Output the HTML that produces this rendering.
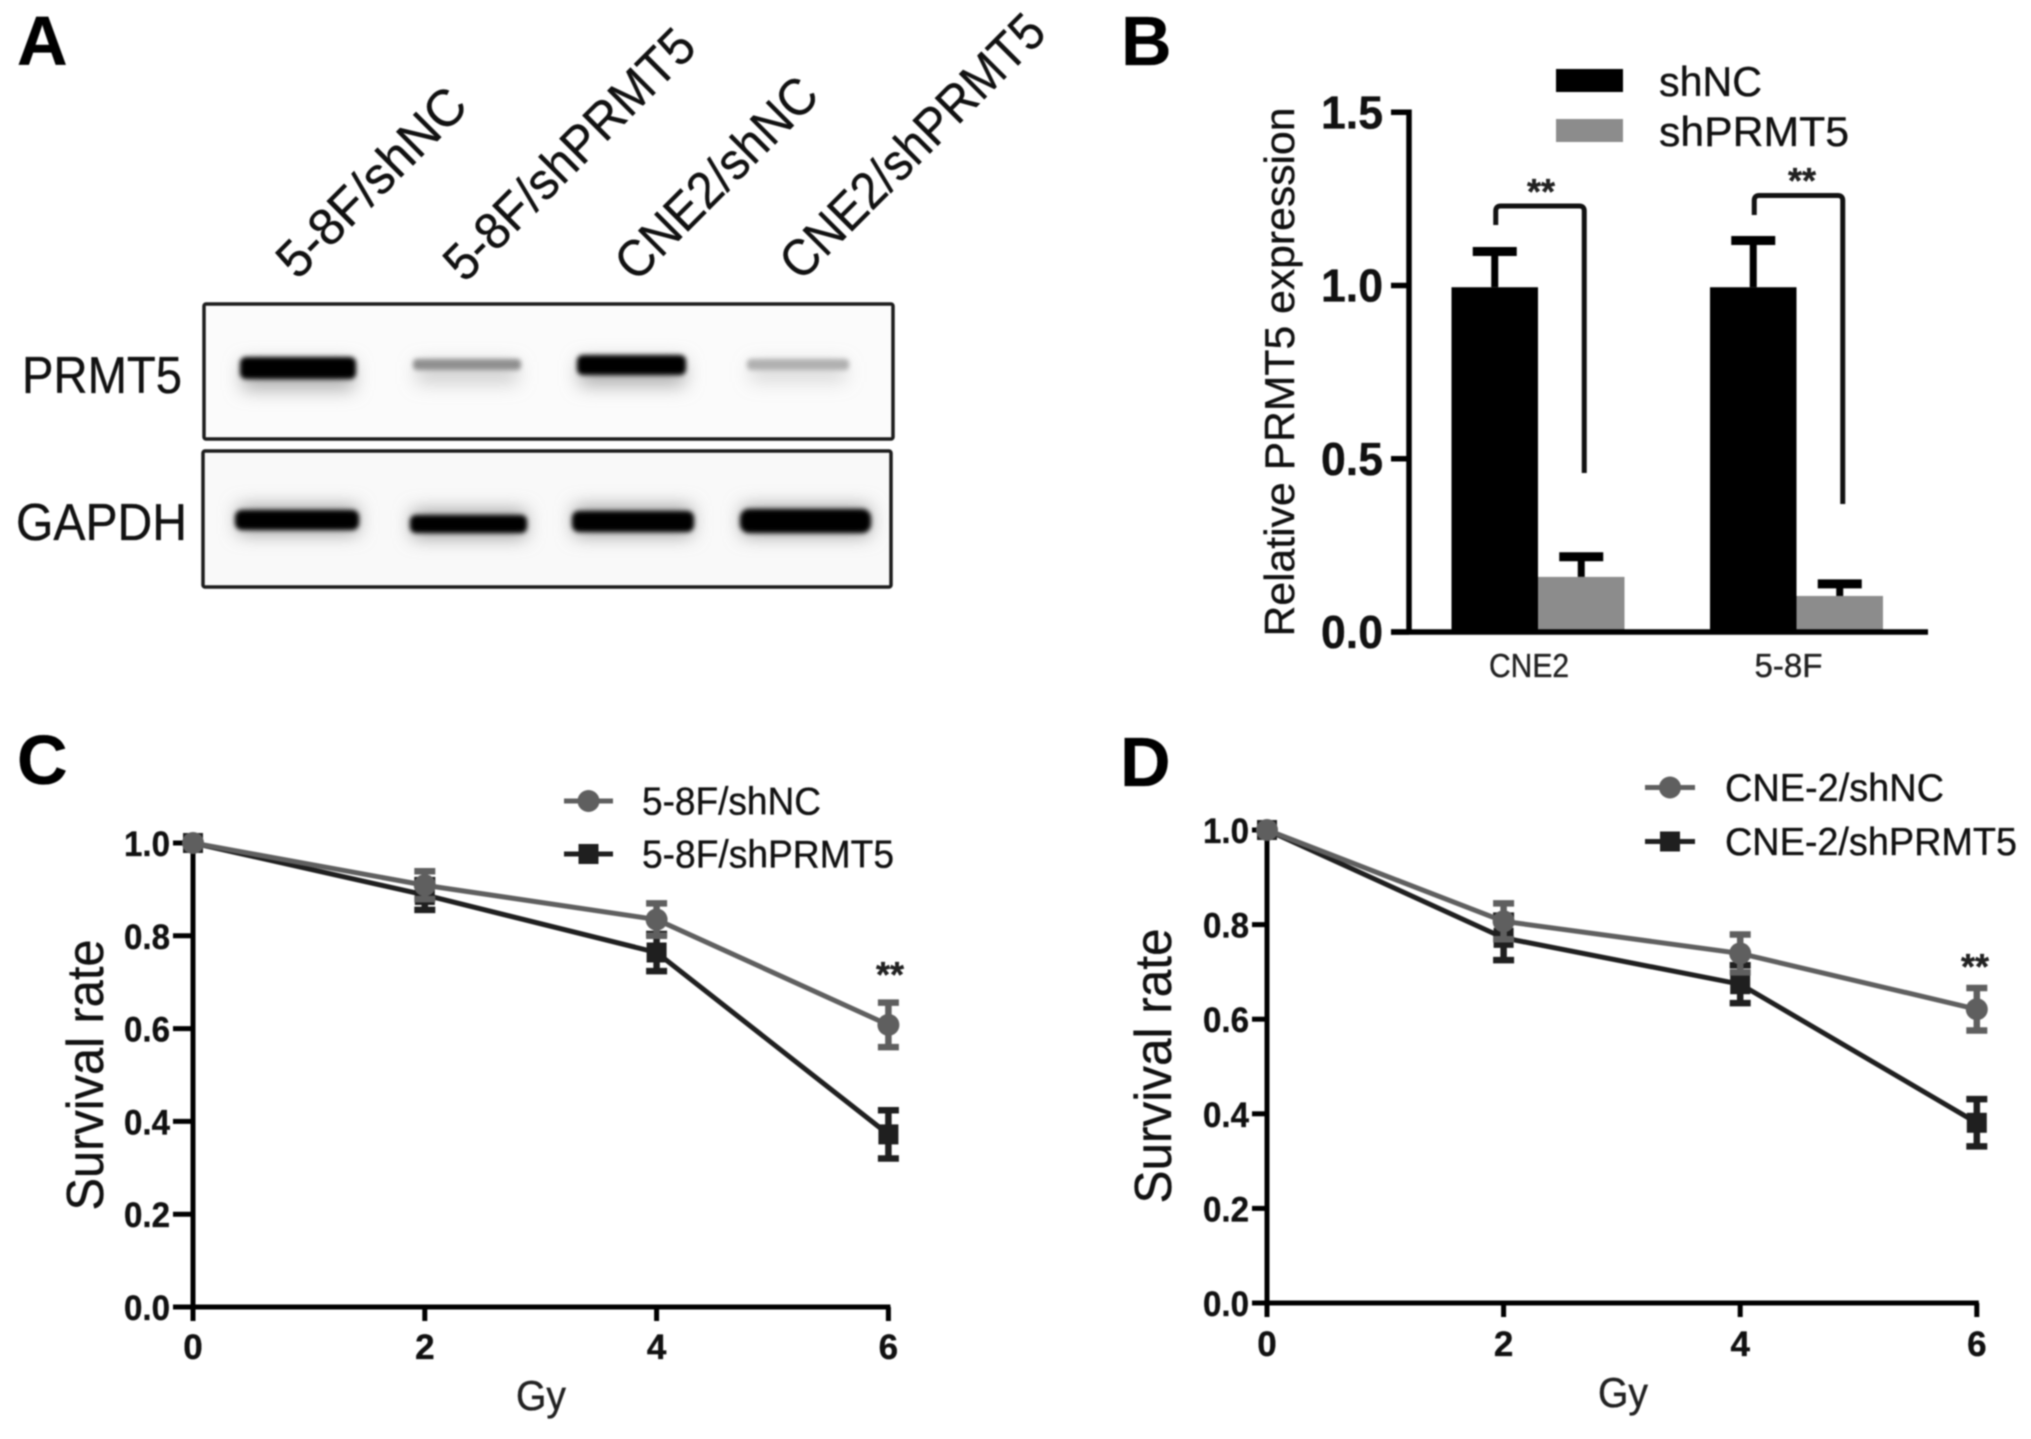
<!DOCTYPE html>
<html lang="en">
<head>
<meta charset="utf-8">
<title>PRMT5 knockdown figure</title>
<style>
html,body{margin:0;padding:0;background:#fff;width:2031px;height:1439px;overflow:hidden}
svg{position:absolute;left:0;top:0;display:block;filter:blur(0.7px)}
text{font-family:"Liberation Sans",Arial,sans-serif;stroke:#111;stroke-width:.35}
</style>
</head>
<body>
<svg id="fig" xmlns="http://www.w3.org/2000/svg" width="2031" height="1439" viewBox="0 0 2031 1439">
<defs>
<filter id="b1" x="-30%" y="-100%" width="160%" height="300%"><feGaussianBlur stdDeviation="2.5"/></filter>
<filter id="b2" x="-30%" y="-200%" width="160%" height="500%"><feGaussianBlur stdDeviation="9"/></filter>
</defs>
<g font-weight="700" font-size="70" fill="#000">
<text x="17" y="65">A</text>
<text x="1121" y="65">B</text>
<text x="17" y="784">C</text>
<text x="1120" y="786">D</text>
</g>
<g>
<g font-size="52" fill="#111" text-anchor="middle">
<text transform="translate(371,182) rotate(-45)" dy="18" textLength="244" lengthAdjust="spacingAndGlyphs">5-8F/shNC</text>
<text transform="translate(569,154) rotate(-45)" dy="18" textLength="331" lengthAdjust="spacingAndGlyphs">5-8F/shPRMT5</text>
<text transform="translate(716,178) rotate(-45)" dy="18" textLength="262" lengthAdjust="spacingAndGlyphs">CNE2/shNC</text>
<text transform="translate(912,146) rotate(-45)" dy="18" textLength="350" lengthAdjust="spacingAndGlyphs">CNE2/shPRMT5</text>
</g>
<text x="22" y="393" font-size="52" fill="#111" textLength="160" lengthAdjust="spacingAndGlyphs">PRMT5</text>
<text x="16" y="540" font-size="52" fill="#111" textLength="171" lengthAdjust="spacingAndGlyphs">GAPDH</text>
<g>
<rect x="204" y="304" width="689" height="135" rx="2" fill="#fbfbfb" stroke="#1c1c1c" stroke-width="3.5"/>
<g filter="url(#b2)" fill="#a8a8a8">
<rect x="242" y="362" width="112" height="28" opacity=".9"/>
<rect x="416" y="362" width="102" height="22" opacity=".5"/>
<rect x="579" y="360" width="106" height="26" opacity=".9"/>
<rect x="750" y="362" width="96" height="20" opacity=".4"/>
</g>
<g filter="url(#b1)">
<rect x="240" y="357" width="116" height="22" rx="6" fill="#000"/>
<rect x="413" y="359" width="108" height="11" rx="4" fill="#8f8f8f"/>
<rect x="577" y="355" width="109" height="20" rx="6" fill="#000"/>
<rect x="747" y="359" width="102" height="11" rx="4" fill="#b0b0b0"/>
</g>
</g>
<g>
<rect x="203" y="451" width="688" height="136" rx="2" fill="#f9f9f9" stroke="#1c1c1c" stroke-width="3.5"/>
<g filter="url(#b2)" fill="#a0a0a0">
<rect x="238" y="506" width="120" height="28"/>
<rect x="412" y="510" width="114" height="28"/>
<rect x="574" y="506" width="118" height="30"/>
<rect x="742" y="506" width="128" height="30"/>
</g>
<g filter="url(#b1)">
<rect x="235" y="510" width="124" height="20" rx="7" fill="#000"/>
<rect x="410" y="515" width="117" height="18" rx="6" fill="#050505"/>
<rect x="572" y="511" width="122" height="21" rx="7" fill="#000"/>
<rect x="740" y="509" width="131" height="24" rx="9" fill="#000"/>
</g>
</g>
</g>
</svg>
<script>
// Panel B data
const barGroups = ['CNE2', '5-8F'];
const barSeriesNames = ['shNC', 'shPRMT5'];
const shNCExpression = [0.995, 0.995];
const shNCExpressionError = [0.103, 0.135];
const shPRMT5Expression = [0.159, 0.104];
const shPRMT5ExpressionError = [0.058, 0.035];
const barTickLabels = ['0.0', '0.5', '1.0', '1.5'];

// Panels C and D data
const doseValues = [0, 2, 4, 6];
const doseTickLabels = ['0', '2', '4', '6'];
const survivalTickLabels = ['0.0', '0.2', '0.4', '0.6', '0.8', '1.0'];
const survival58FshNC = [1.0, 0.909, 0.835, 0.608];
const survival58FshNCError = [0, 0.03, 0.035, 0.048];
const survival58FshPRMT5 = [1.0, 0.888, 0.764, 0.372];
const survival58FshPRMT5Error = [0, 0.032, 0.04, 0.052];
const survivalCNE2shNC = [1.0, 0.807, 0.739, 0.621];
const survivalCNE2shNCError = [0, 0.038, 0.04, 0.045];
const survivalCNE2shPRMT5 = [1.0, 0.772, 0.674, 0.381];
const survivalCNE2shPRMT5Error = [0, 0.047, 0.04, 0.05];

const svg = document.getElementById('fig');
const NS = 'http://www.w3.org/2000/svg';
function mk(tag, attrs, parent, txt) {
  const n = document.createElementNS(NS, tag);
  for (const k in attrs) n.setAttribute(k, attrs[k]);
  if (txt !== undefined) n.textContent = txt;
  (parent || svg).appendChild(n);
  return n;
}
function seg(parent, x1, y1, x2, y2, color, w) {
  return mk('line', {x1: x1, y1: y1, x2: x2, y2: y2, stroke: color, 'stroke-width': w}, parent);
}

/* ---------- Panel B ---------- */
(function () {
  const yB = v => 632 - 346.5 * v;
  const barX = g => [1451.5, 1710][g];
  const barW = 86.5;
  let el;
  const g = mk('g', {});
  
  

  const series = [
    {vals: shNCExpression, errs: shNCExpressionError, fill: '#000', off: 0, key: 'shnc'},
    {vals: shPRMT5Expression, errs: shPRMT5ExpressionError, fill: '#8c8c8c', off: 1, key: 'shprmt5'}
  ];
  series.forEach(s => {
    barGroups.forEach((name, i) => {
      const x = barX(i) + s.off * barW;
      const top = yB(s.vals[i]);
      const errTop = yB(s.vals[i] + s.errs[i]);
      const cx = x + barW / 2;
      el = seg(g, cx, top, cx, errTop, '#000', 7);
      
      
      el = seg(g, cx - 22, errTop, cx + 22, errTop, '#000', 9);
      
      
      el = mk('rect', {x: x, y: top, width: barW, height: yB(0) - top, fill: s.fill}, g);
      
      
    });
  });

  // axes
  el = seg(g, 1409, 109.5, 1409, 634.5, '#000', 5.5);
  
  
  el = seg(g, 1391, 632, 1928, 632, '#000', 5.5);
  
  
  barTickLabels.forEach(lbl => {
    const v = parseFloat(lbl);
    el = seg(g, 1391, yB(v), 1409, yB(v), '#000', 5.5);
    
    
    el = mk('text', {x: 1383, y: yB(v) + 16, 'text-anchor': 'end', 'font-size': 46, 'font-weight': 700, fill: '#111', textLength: 62, lengthAdjust: 'spacingAndGlyphs'}, g, lbl);
    
    
  });
  barGroups.forEach((name, i) => {
    el = mk('text', {x: barX(i) + barW - 9 + (i ? 1 : 0), y: 677, 'text-anchor': 'middle', 'font-size': 33, fill: '#222', textLength: i ? 68 : 80, lengthAdjust: 'spacingAndGlyphs'}, g, name);
    
    
  });
  el = mk('text', {transform: 'translate(1294,372) rotate(-90)', 'text-anchor': 'middle', 'font-size': 42, fill: '#111', textLength: 529, lengthAdjust: 'spacingAndGlyphs'}, g, 'Relative PRMT5 expression');
  
  

  // significance brackets
  const sig = [
    {i: 0, top: 206, left: 225, right: 473, sx: 1541, sy: 204},
    {i: 1, top: 195.5, left: 215, right: 504, sx: 1802, sy: 193}
  ];
  sig.forEach(b => {
    const l = barX(b.i) + barW / 2 + 1;
    const r = barX(b.i) + barW * 1.5 + 3;
    el = mk('path', {d: 'M' + l + ' ' + b.left + 'V' + (b.top + 5) + 'Q' + l + ' ' + b.top + ' ' + (l + 5) + ' ' + b.top + 'H' + (r - 5) + 'Q' + r + ' ' + b.top + ' ' + r + ' ' + (b.top + 5) + 'V' + b.right, fill: 'none', stroke: '#111', 'stroke-width': 5}, g);
    
    
    el = mk('text', {x: b.sx, y: b.sy, 'text-anchor': 'middle', 'font-size': 36, 'font-weight': 700, fill: '#222'}, g, '**');
    
    
  });

  // legend
  el = mk('rect', {x: 1556, y: 69, width: 67, height: 23, fill: '#000'}, g);
  
  
  el = mk('rect', {x: 1556, y: 119, width: 67, height: 23, fill: '#8c8c8c'}, g);
  
  
  el = mk('text', {x: 1659, y: 96, 'font-size': 42, fill: '#111', textLength: 103, lengthAdjust: 'spacingAndGlyphs'}, g, barSeriesNames[0]);
  
  
  el = mk('text', {x: 1659, y: 146, 'font-size': 42, fill: '#111', textLength: 190, lengthAdjust: 'spacingAndGlyphs'}, g, barSeriesNames[1]);
  
  
})();

/* ---------- Panels C / D ---------- */
function drawSurvival(cfg) {
  const X = cfg.x, Y = cfg.y;
  let el;
  const g = mk('g', {});
  
  

  // axes
  el = seg(g, X(0), Y(1), X(0), Y(0) + 2, '#000', 5);
  
  
  el = seg(g, X(0) - 2, Y(0), X(6) + 2, Y(0), '#000', 5);
  
  
  survivalTickLabels.forEach(lbl => {
    const v = parseFloat(lbl);
    el = seg(g, X(0) - cfg.tickLen, Y(v), X(0), Y(v), '#000', 5);
    
    
    el = mk('text', {x: X(0) - cfg.tickLen - 3, y: Y(v) + 13, 'text-anchor': 'end', 'font-size': 35, 'font-weight': 700, fill: '#111', textLength: 46, lengthAdjust: 'spacingAndGlyphs'}, g, lbl);
    
    
  });
  doseTickLabels.forEach(lbl => {
    const v = parseFloat(lbl);
    el = seg(g, X(v), Y(0), X(v), Y(0) + 14, '#000', 5);
    
    
    el = mk('text', {x: X(v), y: cfg.xLabelY, 'text-anchor': 'middle', 'font-size': 35, 'font-weight': 700, fill: '#111'}, g, lbl);
    
    
  });
  el = mk('text', {x: cfg.gyX, y: cfg.gyY, 'text-anchor': 'middle', 'font-size': 42, fill: '#222', textLength: 50, lengthAdjust: 'spacingAndGlyphs'}, g, 'Gy');
  
  
  el = mk('text', {transform: 'translate(' + cfg.titleX + ',' + cfg.titleY + ') rotate(-90)', 'text-anchor': 'middle', 'font-size': 52, fill: '#111', textLength: cfg.titleLen, lengthAdjust: 'spacingAndGlyphs'}, g, 'Survival rate');
  
  

  // series: knockdown first, control on top
  cfg.series.forEach(s => {
    const pts = doseValues.map((d, i) => X(d) + ',' + Y(s.vals[i])).join(' ');
    el = mk('polyline', {points: pts, fill: 'none', stroke: s.color, 'stroke-width': 5}, g);
    
    
    doseValues.forEach((d, i) => {
      const cx = X(d), cy = Y(s.vals[i]), e = s.errs[i];
      if (e > 0) {
        el = mk('path', {d: 'M' + cx + ' ' + Y(s.vals[i] + e) + 'V' + Y(s.vals[i] - e) + 'M' + (cx - 10.5) + ' ' + Y(s.vals[i] + e) + 'H' + (cx + 10.5) + 'M' + (cx - 10.5) + ' ' + Y(s.vals[i] - e) + 'H' + (cx + 10.5), fill: 'none', stroke: s.color, 'stroke-width': 6.5}, g);
        
        
      }
      if (s.shape === 'circle') {
        el = mk('circle', {cx: cx, cy: cy, r: 11, fill: s.color}, g);
      } else {
        el = mk('rect', {x: cx - 10, y: cy - 10, width: 20, height: 20, fill: s.color}, g);
      }
      
      
    });
  });

  el = mk('text', {x: cfg.starX, y: cfg.starY, 'text-anchor': 'middle', 'font-size': 36, 'font-weight': 700, fill: '#222'}, g, '**');
  
  

  // legend
  cfg.legend.forEach(item => {
    el = seg(g, cfg.legX1, item.y, cfg.legX2, item.y, item.color, 5);
    
    
    const mid = (cfg.legX1 + cfg.legX2) / 2;
    if (item.shape === 'circle') {
      el = mk('circle', {cx: mid, cy: item.y, r: 11, fill: item.color}, g);
    } else {
      el = mk('rect', {x: mid - 10, y: item.y - 10, width: 20, height: 20, fill: item.color}, g);
    }
    
    
    el = mk('text', {x: cfg.legTextX, y: item.y + 13.5, 'font-size': 39, fill: '#111', textLength: item.len, lengthAdjust: 'spacingAndGlyphs'}, g, item.text);
    
    
  });
}

const GREY = '#5f5f5f', DARK = '#1f1f1f';
drawSurvival({
  name: 'survival-chart-5-8f',
  x: d => 193 + 115.9 * d,
  y: v => 1307 - 464 * v,
  tickLen: 20, xLabelY: 1359, gyX: 541, gyY: 1410, titleX: 103, titleY: 1075, titleLen: 271,
  starX: 890, starY: 987,
  legX1: 564, legX2: 613, legTextX: 642,
  legend: [
    {y: 801, color: GREY, shape: 'circle', text: '5-8F/shNC', len: 179},
    {y: 854, color: DARK, shape: 'square', text: '5-8F/shPRMT5', len: 252}
  ],
  series: [
    {key: '5-8f-shprmt5', vals: survival58FshPRMT5, errs: survival58FshPRMT5Error, color: DARK, shape: 'square'},
    {key: '5-8f-shnc', vals: survival58FshNC, errs: survival58FshNCError, color: GREY, shape: 'circle'}
  ]
});
drawSurvival({
  name: 'survival-chart-cne-2',
  x: d => 1267 + 118.3 * d,
  y: v => 1303 - 473 * v,
  tickLen: 15, xLabelY: 1356, gyX: 1623, gyY: 1407, titleX: 1171, titleY: 1066, titleLen: 275,
  starX: 1975, starY: 979,
  legX1: 1645, legX2: 1695, legTextX: 1725,
  legend: [
    {y: 787.5, color: GREY, shape: 'circle', text: 'CNE-2/shNC', len: 219},
    {y: 841.5, color: DARK, shape: 'square', text: 'CNE-2/shPRMT5', len: 292}
  ],
  series: [
    {key: 'cne-2-shprmt5', vals: survivalCNE2shPRMT5, errs: survivalCNE2shPRMT5Error, color: DARK, shape: 'square'},
    {key: 'cne-2-shnc', vals: survivalCNE2shNC, errs: survivalCNE2shNCError, color: GREY, shape: 'circle'}
  ]
});
</script>
</body>
</html>
